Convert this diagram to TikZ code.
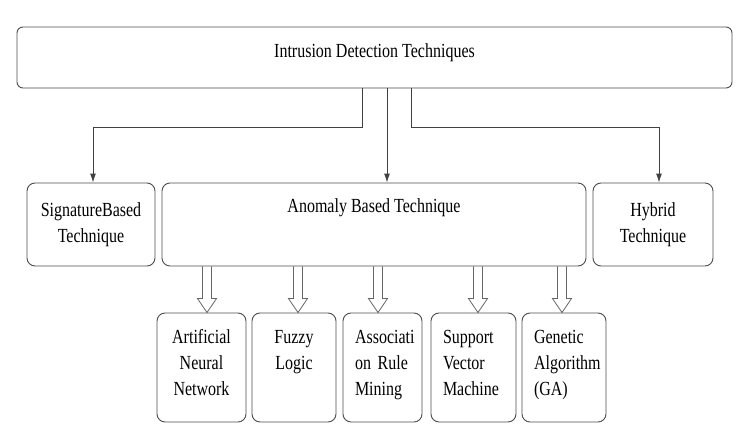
\documentclass[tikz,border=0pt]{standalone}
\usepackage{fontspec}
\setmainfont[FakeStretch=0.8]{Liberation Serif}
\usetikzlibrary{arrows.meta}

\begin{document}
\begin{tikzpicture}[x=1pt, y=-1pt,
    box/.style={draw=black!70, line width=0.9pt, rounded corners=8pt, align=center, font=\fontsize{20}{26}\selectfont},
    leaf/.style={box, minimum height=109, inner xsep=12, text height=14, text depth=62},
    link/.style={draw=black!75, line width=1pt, -{Latex[length=9,width=6]}},
    hollow/.style={draw=black!60, line width=0.8pt, to path={
      ([xshift=-4.5]\tikztostart) -- ([xshift=-4.5, yshift=14]\tikztotarget) -- ([xshift=-9.5, yshift=14]\tikztotarget)
      -- (\tikztotarget) -- ([xshift=9.5, yshift=14]\tikztotarget) -- ([xshift=4.5, yshift=14]\tikztotarget) -- ([xshift=4.5]\tikztostart)}}]
  \useasboundingbox (0,0) rectangle (740,446);
  % top level
  \node[box, rounded corners=6pt, minimum width=715, minimum height=61, text depth=14] (idt) at (374.5,57.5) {Intrusion Detection Techniques};
  % second level
  \node[box, minimum width=128, minimum height=83] (sbt) at (91,224.5) {SignatureBased\\Technique};
  \node[box, minimum width=424, minimum height=83, text depth=37] (abt) at (374,224.5) {Anomaly Based Technique};
  \node[box, minimum width=120, minimum height=83] (hbt) at (653,224.5) {Hybrid\\Technique};
  \draw[link] ([xshift=-12.5]idt.south) -- ++(0,39) -| ([xshift=2]sbt.north);
  \draw[link] ([xshift=12.5]idt.south) -- ([xshift=12.5]idt.south |- abt.north);
  \draw[link] ([xshift=36.5]idt.south) -- ++(0,39) -| ([xshift=6]hbt.north);
  % anomaly based methods
  \foreach \n/\cx/\tw/\dx/\al/\t in {
      ann/201.5/65/5.5/center/{Artificial\\Neural\\Network},
      flg/294/60/4/center/{Fuzzy\\Logic},
      arm/382.5/55/-4.5/left/{Associati\\on Rule\\Mining},
      svm/473.5/61/4.5/left/{Support\\Vector\\Machine},
      gen/564/60/-2/left/{Genetic\\Algorithm\\(GA)}} {
    \node[leaf, text width=\tw, align=\al] (\n) at (\cx,367.5) {\t};
    \draw[hollow] ([xshift=\dx]\n.north |- abt.south) to ([xshift=\dx]\n.north);
  }
\end{tikzpicture}
\end{document}
